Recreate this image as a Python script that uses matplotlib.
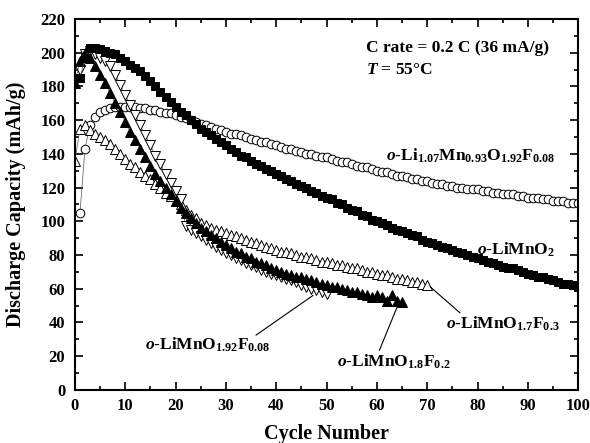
import numpy as np
import matplotlib
matplotlib.use("Agg")
import matplotlib.pyplot as plt
from matplotlib.ticker import MultipleLocator

plt.rcParams['font.family'] = ['Liberation Serif', 'DejaVu Serif']
plt.rcParams['font.weight'] = 'bold'
plt.rcParams['mathtext.fontset'] = 'custom'
plt.rcParams['mathtext.rm'] = 'Liberation Serif:bold'
plt.rcParams['mathtext.it'] = 'Liberation Serif:italic:bold'
plt.rcParams['mathtext.bf'] = 'Liberation Serif:bold'

# discharge capacity (mAh/g) per cycle
limno2 = [185, 197, 203, 203, 202, 201, 200, 199, 197, 195,
          193, 191, 189, 186, 183, 180, 177, 174, 171, 168,
          165, 163, 160, 158, 155, 153, 151, 149, 147, 145,
          143, 141, 139, 138, 136, 134, 133, 131, 130, 128,
          127, 125, 124, 122, 121, 120, 118, 117, 115, 114,
          113, 111, 110, 108, 107, 106, 104, 103, 101, 100,
          99, 98, 96, 95, 94, 93, 92, 91, 89, 88,
          87, 86, 85, 84, 83, 82, 81, 80, 79, 78,
          77, 76, 75, 74, 73, 72, 72, 71, 70, 69,
          68, 67, 67, 66, 65, 64, 63, 63, 62, 61]

li107 = [105, 143, 157, 162, 165, 166, 167, 168, 168, 168,
         168, 168, 167, 167, 166, 166, 165, 164, 164, 163,
         162, 161, 160, 159, 158, 157, 156, 155, 154, 153,
         152, 152, 151, 150, 149, 148, 147, 147, 146, 145,
         144, 143, 143, 142, 141, 140, 140, 139, 138, 138,
         137, 136, 135, 135, 134, 133, 132, 132, 131, 130,
         129, 129, 128, 127, 127, 126, 125, 125, 124, 124,
         123, 122, 122, 121, 121, 120, 120, 119, 119, 119,
         118, 118, 117, 117, 116, 116, 116, 115, 115, 114,
         114, 114, 113, 113, 112, 112, 112, 111, 111, 111]

f02 = [182, 195, 200, 197, 192, 187, 182, 176, 170, 165,
       159, 153, 148, 143, 138, 133, 128, 124, 120, 116,
       112, 108, 105, 102, 99, 96, 94, 92, 90, 88,
       86, 84, 82, 81, 79, 78, 76, 75, 74, 72,
       71, 70, 69, 68, 67, 67, 66, 65, 64, 63,
       62, 61, 61, 60, 59, 58, 58, 57, 56, 55,
       56, 55, 53, 56, 53, 52]

f008 = [190, 199, 201, 199, 197, 195, 192, 187, 181, 175,
        169, 163, 157, 151, 145, 139, 134, 128, 123, 118,
        113, 97, 95, 93, 91, 89, 87, 85, 83, 81,
        80, 78, 77, 75, 74, 73, 71, 70, 69, 68,
        67, 66, 65, 64, 62, 61, 60, 59, 58, 57]

f03 = [136, 155, 157, 154, 152, 150, 148, 146, 143, 140,
       137, 134, 132, 129, 127, 125, 122, 120, 117, 115,
       112, 110, 107, 104, 102, 99, 98, 96, 95, 94,
       93, 92, 91, 90, 89, 88, 87, 86, 85, 84,
       83, 82, 82, 81, 80, 79, 79, 78, 77, 76,
       76, 75, 74, 74, 73, 72, 72, 71, 70, 70,
       69, 68, 68, 67, 66, 66, 65, 64, 64, 63, 62]

cyc_limno2 = np.arange(1, len(limno2) + 1)
cyc_li107 = np.arange(1, len(li107) + 1)
cyc_f02 = np.arange(0, len(f02))
cyc_f008 = np.arange(1, len(f008) + 1)
cyc_f03 = np.arange(0, len(f03))

fig = plt.figure(figsize=(5.9, 4.43), dpi=100)
ax = fig.add_axes([0.127, 0.12, 0.853, 0.837])

line_kw = dict(color='#555555', lw=0.5, markeredgewidth=0.7)
ax.plot(cyc_li107, li107, marker='o', ms=6.2, mfc='white', mec='black', **line_kw)
ax.plot(cyc_f03, f03, marker='^', ms=6.5, mfc='white', mec='black', **line_kw)
ax.plot(cyc_f008, f008, marker='v', ms=6.5, mfc='white', mec='black', **line_kw)
ax.plot(cyc_f02, f02, marker='^', ms=6.8, mfc='black', mec='black', **line_kw)
ax.plot(cyc_limno2, limno2, marker='s', ms=5.8, mfc='black', mec='black', **line_kw)

ax.set_xlim(0, 100)
ax.set_ylim(0, 220)
ax.xaxis.set_major_locator(MultipleLocator(10))
ax.xaxis.set_minor_locator(MultipleLocator(5))
ax.yaxis.set_major_locator(MultipleLocator(20))
ax.yaxis.set_minor_locator(MultipleLocator(10))
ax.tick_params(which='both', direction='in', top=True, right=True,
               labelsize=12, width=1.2)
ax.tick_params(which='major', length=6)
ax.tick_params(which='minor', length=3)
ax.tick_params(axis='y', pad=7)
ax.tick_params(axis='x', pad=6)
for s in ax.spines.values():
    s.set_linewidth(1.5)

ax.set_xlabel('Cycle Number', fontsize=14.5, fontweight='bold')
ax.set_ylabel('Discharge Capacity (mAh/g)', fontsize=14.5, fontweight='bold')
ax.xaxis.set_label_coords(0.5, -0.092)
ax.yaxis.set_label_coords(-0.097, 0.5)

lab = dict(fontsize=12.5, fontweight='bold')
ax.text(57.8, 203, 'C rate = 0.2 C (36 mA/g)', ha='left', va='center', **lab)
ax.text(57.8, 190, r'$\mathit{T}$ = 55°C', ha='left', va='center', **lab)
ax.text(95.5, 139, r'$\mathit{o}$-Li$_{1.07}$Mn$_{0.93}$O$_{1.92}$F$_{0.08}$',
        ha='right', va='center', **lab)
ax.text(95.5, 83, r'$\mathit{o}$-LiMnO$_{2}$', ha='right', va='center', **lab)
ax.text(96.4, 39, r'$\mathit{o}$-LiMnO$_{1.7}$F$_{0.3}$', ha='right', va='center', **lab)
ax.text(63.4, 16.5, r'$\mathit{o}$-LiMnO$_{1.8}$F$_{0.2}$', ha='center', va='center', **lab)
ax.text(26.5, 27, r'$\mathit{o}$-LiMnO$_{1.92}$F$_{0.08}$', ha='center', va='center', **lab)

# leader lines from labels to series ends
ax.plot([36.0, 47.3], [32.5, 56.0], color='black', lw=0.8)
ax.plot([60.5, 64.0], [23.5, 49.0], color='black', lw=0.8)
ax.plot([76.5, 70.6], [45.7, 61.1], color='black', lw=0.8)

fig.savefig('out.png', dpi=100)
